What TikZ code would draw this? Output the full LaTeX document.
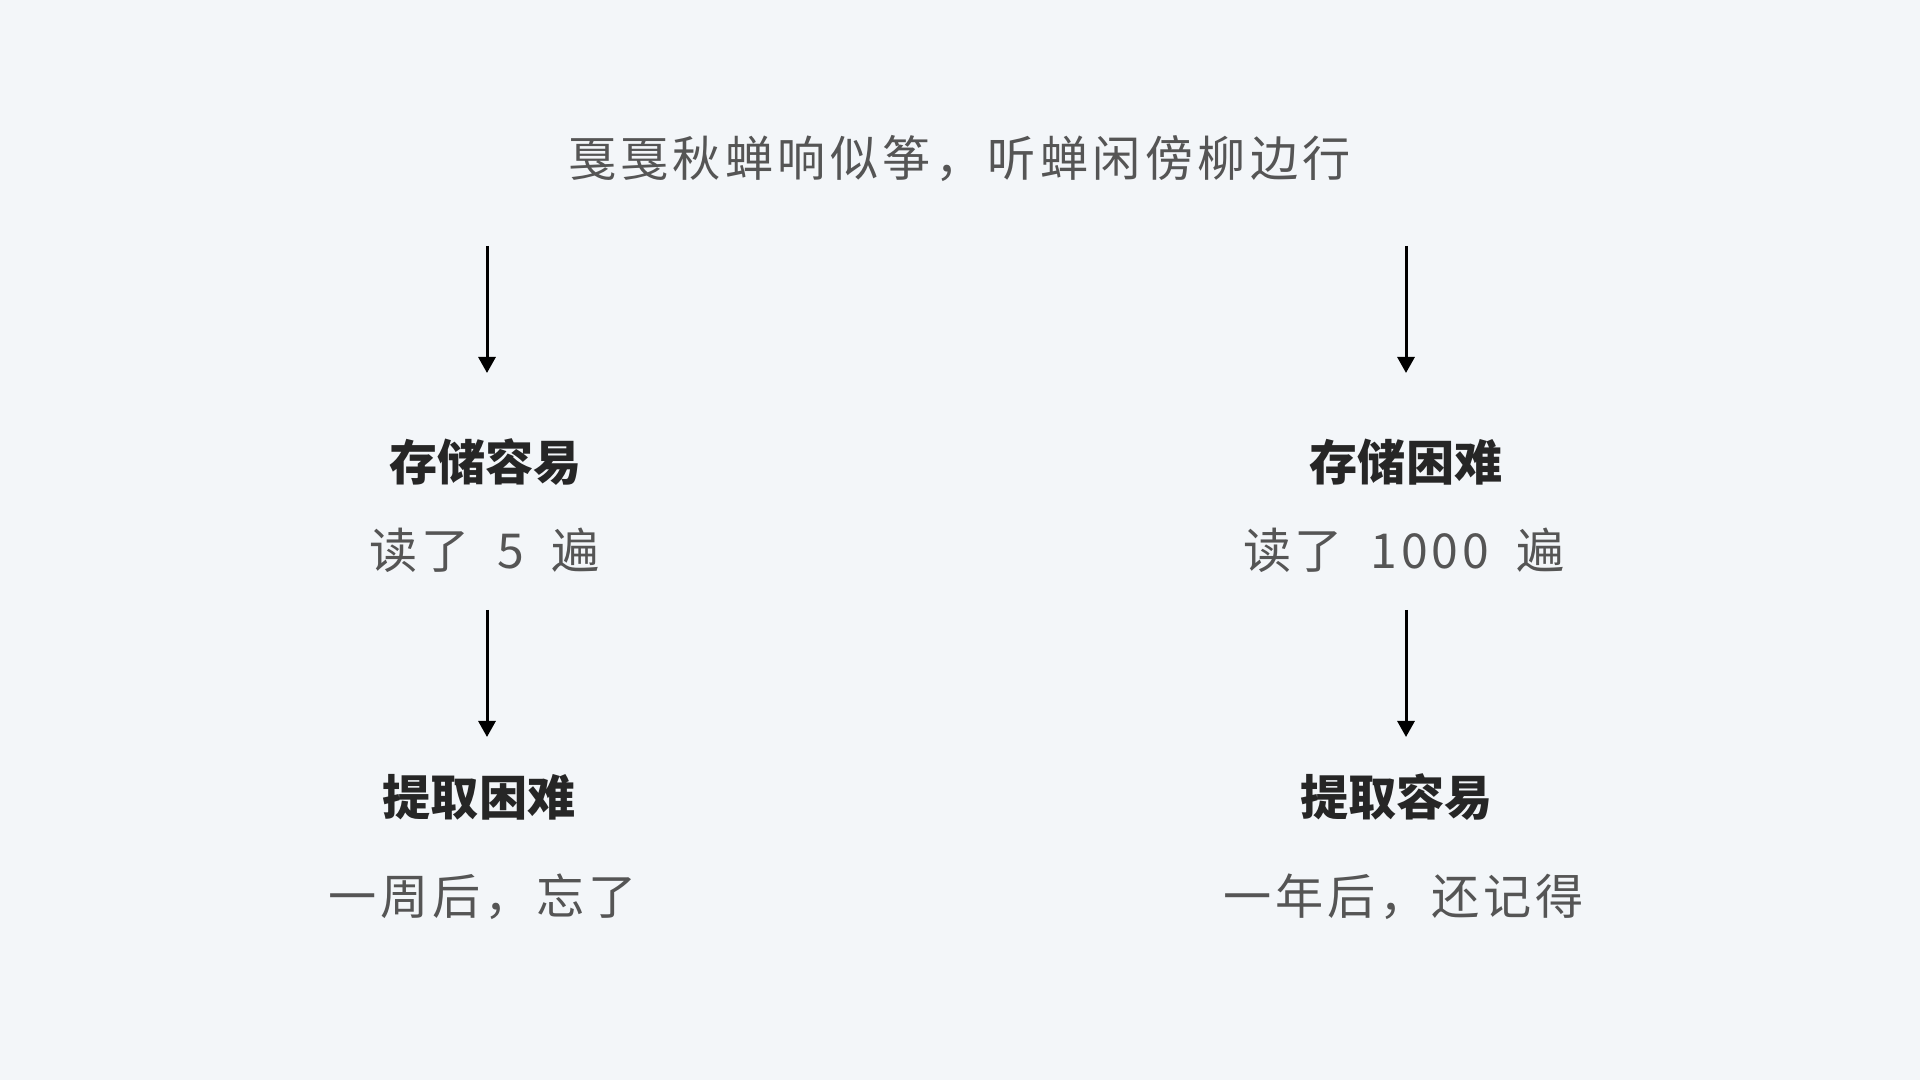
\documentclass[tikz,border=0pt]{standalone}
\usepackage{fontspec}
\setmainfont{Noto Sans CJK SC}
\newfontfamily\spacedcjk[LetterSpace=8]{Noto Sans CJK SC}
\newfontfamily\widecjk[LetterSpace=9]{Noto Sans CJK SC}
\usepackage{xcolor}
\usepackage{tikz}
\usetikzlibrary{positioning, arrows.meta}

\definecolor{bgpage}{HTML}{F3F6F9}
\definecolor{txtgray}{HTML}{555555}
\definecolor{txtdark}{HTML}{262626}

\newcommand{\gap}{\hspace{1.3mm}}

\tikzset{
  poem/.style={font=\fontsize{13.7pt}{16pt}\widecjk, text=txtgray, inner sep=0pt},
  headline/.style={font=\fontsize{13.7pt}{16pt}\selectfont\bfseries, text=txtdark, inner sep=0pt},
  note/.style={font=\fontsize{13.7pt}{16pt}\spacedcjk, text=txtgray, inner sep=0pt},
  flow/.style={-{Triangle[width=1.7mm,length=1.6mm]}, line width=0.85pt, black}
}

\begin{document}
\begin{tikzpicture}
  \path[fill=bgpage] (0,0) rectangle (19.2,10.8);

  \node[poem] (poem) at (9.595,9.21) {戛戛秋蝉响似筝，听蝉闲傍柳边行};

  % Left column
  \coordinate (la) at (4.87,8.34);
  \coordinate (lb) at (4.87,7.07);
  \node[headline] (lstore) at (4.855,6.18) {存储容易};
  \node[note] (lread) at (4.85,5.30) {读了 \gap{}5 \gap{}遍};
  \coordinate (lc) at (4.87,4.70);
  \coordinate (ld) at (4.87,3.43);
  \node[headline] (lget) at (4.79,2.83) {提取困难};
  \node[note] (lres) at (4.83,1.83) {一周后，忘了};

  % Right column
  \coordinate (ra) at (14.06,8.34);
  \coordinate (rb) at (14.06,7.07);
  \node[headline] (rstore) at (14.06,6.18) {存储困难};
  \node[note] (rread) at (14.04,5.30) {读了 \gap{}1000 \gap{}遍};
  \coordinate (rc) at (14.06,4.70);
  \coordinate (rd) at (14.06,3.43);
  \node[headline] (rget) at (13.965,2.83) {提取容易};
  \node[note] (rres) at (14.04,1.83) {一年后，还记得};

  % Arrows
  \foreach \s/\e in {la/lb, lc/ld, ra/rb, rc/rd} {
    \draw[flow] (\s) -- (\e);
  }
\end{tikzpicture}
\end{document}
